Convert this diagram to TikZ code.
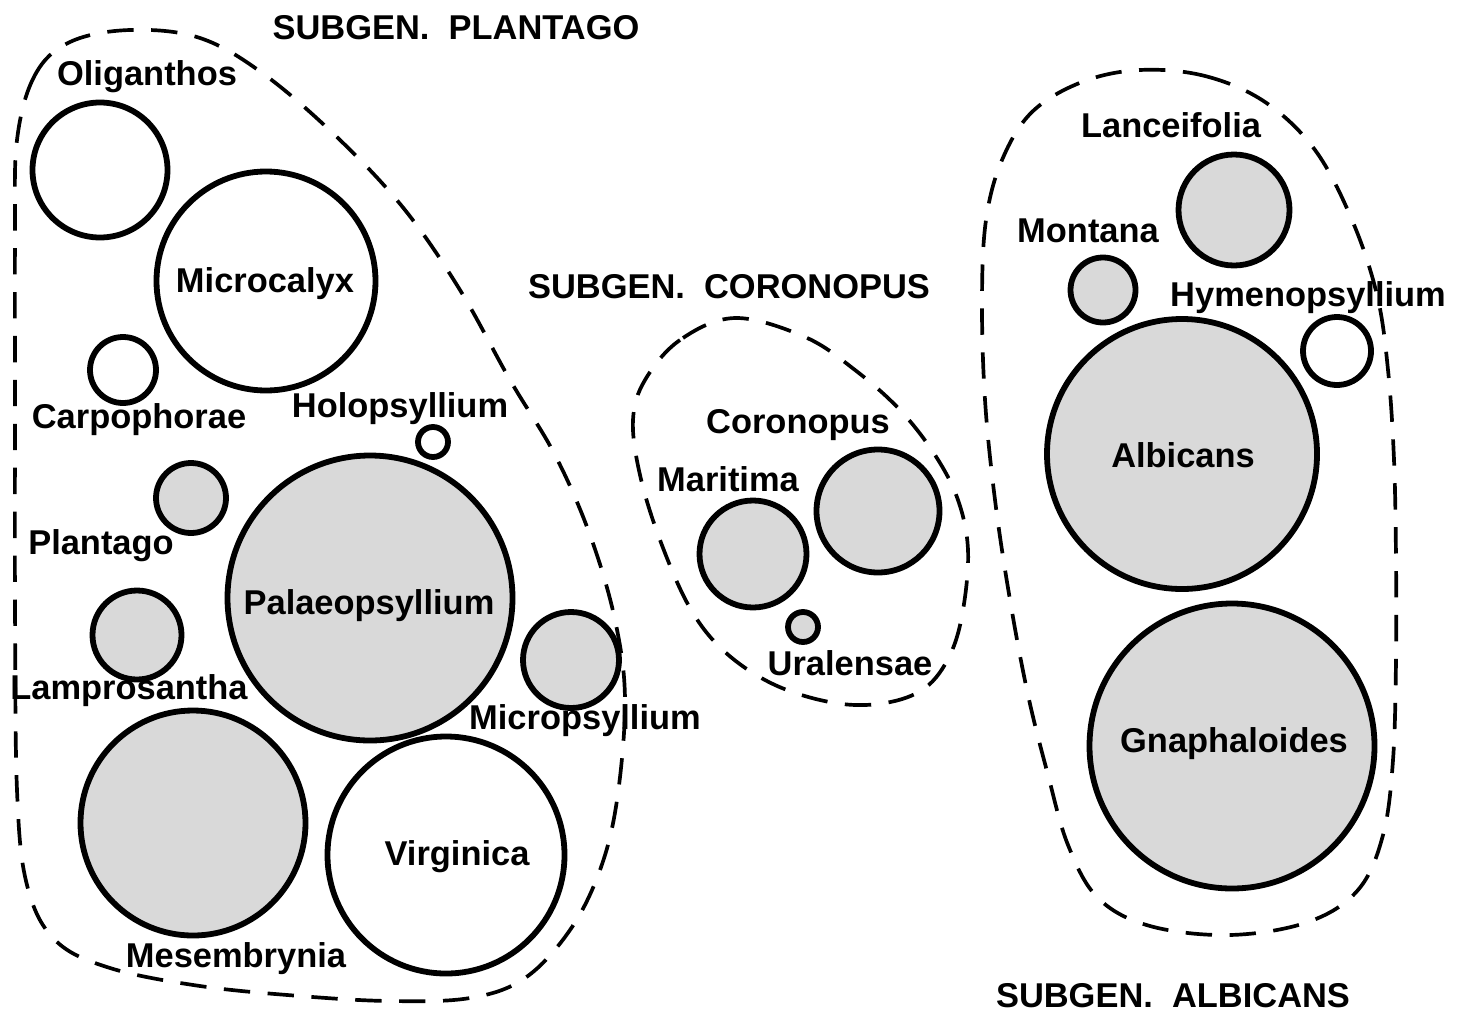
\documentclass[tikz,border=0pt]{standalone}
\usepackage{fontspec}
\setmainfont{Liberation Sans}
\begin{document}
\begin{tikzpicture}[x=0.02cm,y=-0.02cm,
  lbl/.style={font=\bfseries\fontsize{19.6}{24}\selectfont, inner sep=0pt},
  taxon/.style={circle, draw=black, line width=3.3pt, inner sep=0pt, minimum size=#1*0.02cm},
  shaded/.style={taxon=#1, fill=black!15},
  plain/.style={taxon=#1, fill=white},
  grp/.style={dash pattern=on 15pt off 10pt, line width=2.1pt}]
\useasboundingbox (0,0) rectangle (1459,1014);

% circles
\node[plain=135]  (oli)  at (100,170) {};
\node[plain=219]  (mic)  at (266,281) {};
\node[plain=66]   (car)  at (123,370) {};
\node[plain=30]   (hol)  at (433,442) {};
\node[shaded=285] (pal)  at (370,598) {};
\node[shaded=70]  (pla)  at (191,498) {};
\node[shaded=89]  (lam)  at (137,635) {};
\node[shaded=96]  (mip)  at (571,660) {};
\node[shaded=225] (mes)  at (193,823) {};
\node[plain=237]  (vir)  at (446,855) {};
\node[shaded=107] (mar)  at (753,554) {};
\node[shaded=123] (cor)  at (878,511) {};
\node[shaded=30]  (ura)  at (803,627) {};
\node[shaded=111] (lan)  at (1234,210) {};
\node[shaded=65]  (mon)  at (1103,290) {};
\node[plain=68]   (hym)  at (1337,351) {};
\node[shaded=270] (alb)  at (1182,454) {};
\node[shaded=285] (gna)  at (1232,746) {};

% labels
\node[lbl] (tPl) at (456,28) {SUBGEN.\ \ PLANTAGO};
\node[lbl] (lOli) at (147,77) {Oliganthos};
\node[lbl] (lMic) at (265,284) {Microcalyx};
\node[lbl] (lCar) at (139,420) {Carpophorae};
\node[lbl] (lHol) at (400,409) {Holopsyllium};
\node[lbl] (lPla) at (101,546) {Plantago};
\node[lbl] (lPal) at (369,606) {Palaeopsyllium};
\node[lbl] (lLam) at (129,691) {Lamprosantha};
\node[lbl] (lMip) at (585,721) {Micropsyllium};
\node[lbl] (lVir) at (457,857) {Virginica};
\node[lbl] (lMes) at (236,959) {Mesembrynia};
\node[lbl] (tCo) at (729,287) {SUBGEN.\ \ CORONOPUS};
\node[lbl] (lCor) at (798,425) {Coronopus};
\node[lbl] (lMar) at (728,479) {Maritima};
\node[lbl] (lUra) at (850,663) {Uralensae};
\node[lbl] (lLan) at (1171,125) {Lanceifolia};
\node[lbl] (lMon) at (1088,231) {Montana};
\node[lbl] (lHym) at (1308,298) {Hymenopsyllium};
\node[lbl] (lAlb) at (1183,455) {Albicans};
\node[lbl] (lGna) at (1234,744) {Gnaphaloides};
\node[lbl] (tAl) at (1173,996) {SUBGEN.\ \ ALBICANS};

% group outlines
\draw[grp] plot[smooth cycle, tension=0.6] coordinates {
 (17,140) (35,75) (70,42) (130,30) (200,38) (265,75) (340,140) (405,210)
 (460,290) (510,380) (555,455) (590,535) (615,620) (625,700) (617,800)
 (600,870) (570,930) (525,978) (470,998) (390,1001) (300,996) (200,986)
 (110,968) (55,940) (27,885) (17,790) (15,600) (15,400) (15,240)};
\draw[grp] plot[smooth cycle, tension=0.6] coordinates {
 (735,318) (680,340) (645,380) (633,420) (640,475) (660,540) (690,608)
 (725,652) (775,685) (835,703) (885,703) (925,688) (950,655) (963,610)
 (968,550) (958,500) (935,455) (900,410) (855,370) (805,337)};
\draw[grp] plot[smooth cycle, tension=0.6] coordinates {
 (1140,70) (1205,76) (1265,102) (1315,150) (1352,220) (1377,295) (1388,370)
 (1394,460) (1396,560) (1396,660) (1393,760) (1383,835) (1358,890) (1308,922)
 (1230,935) (1150,926) (1098,898) (1068,845) (1048,775) (1028,695) (1010,600)
 (995,500) (985,400) (982,300) (986,220) (1002,160) (1032,112) (1082,82)};
\end{tikzpicture}
\end{document}
